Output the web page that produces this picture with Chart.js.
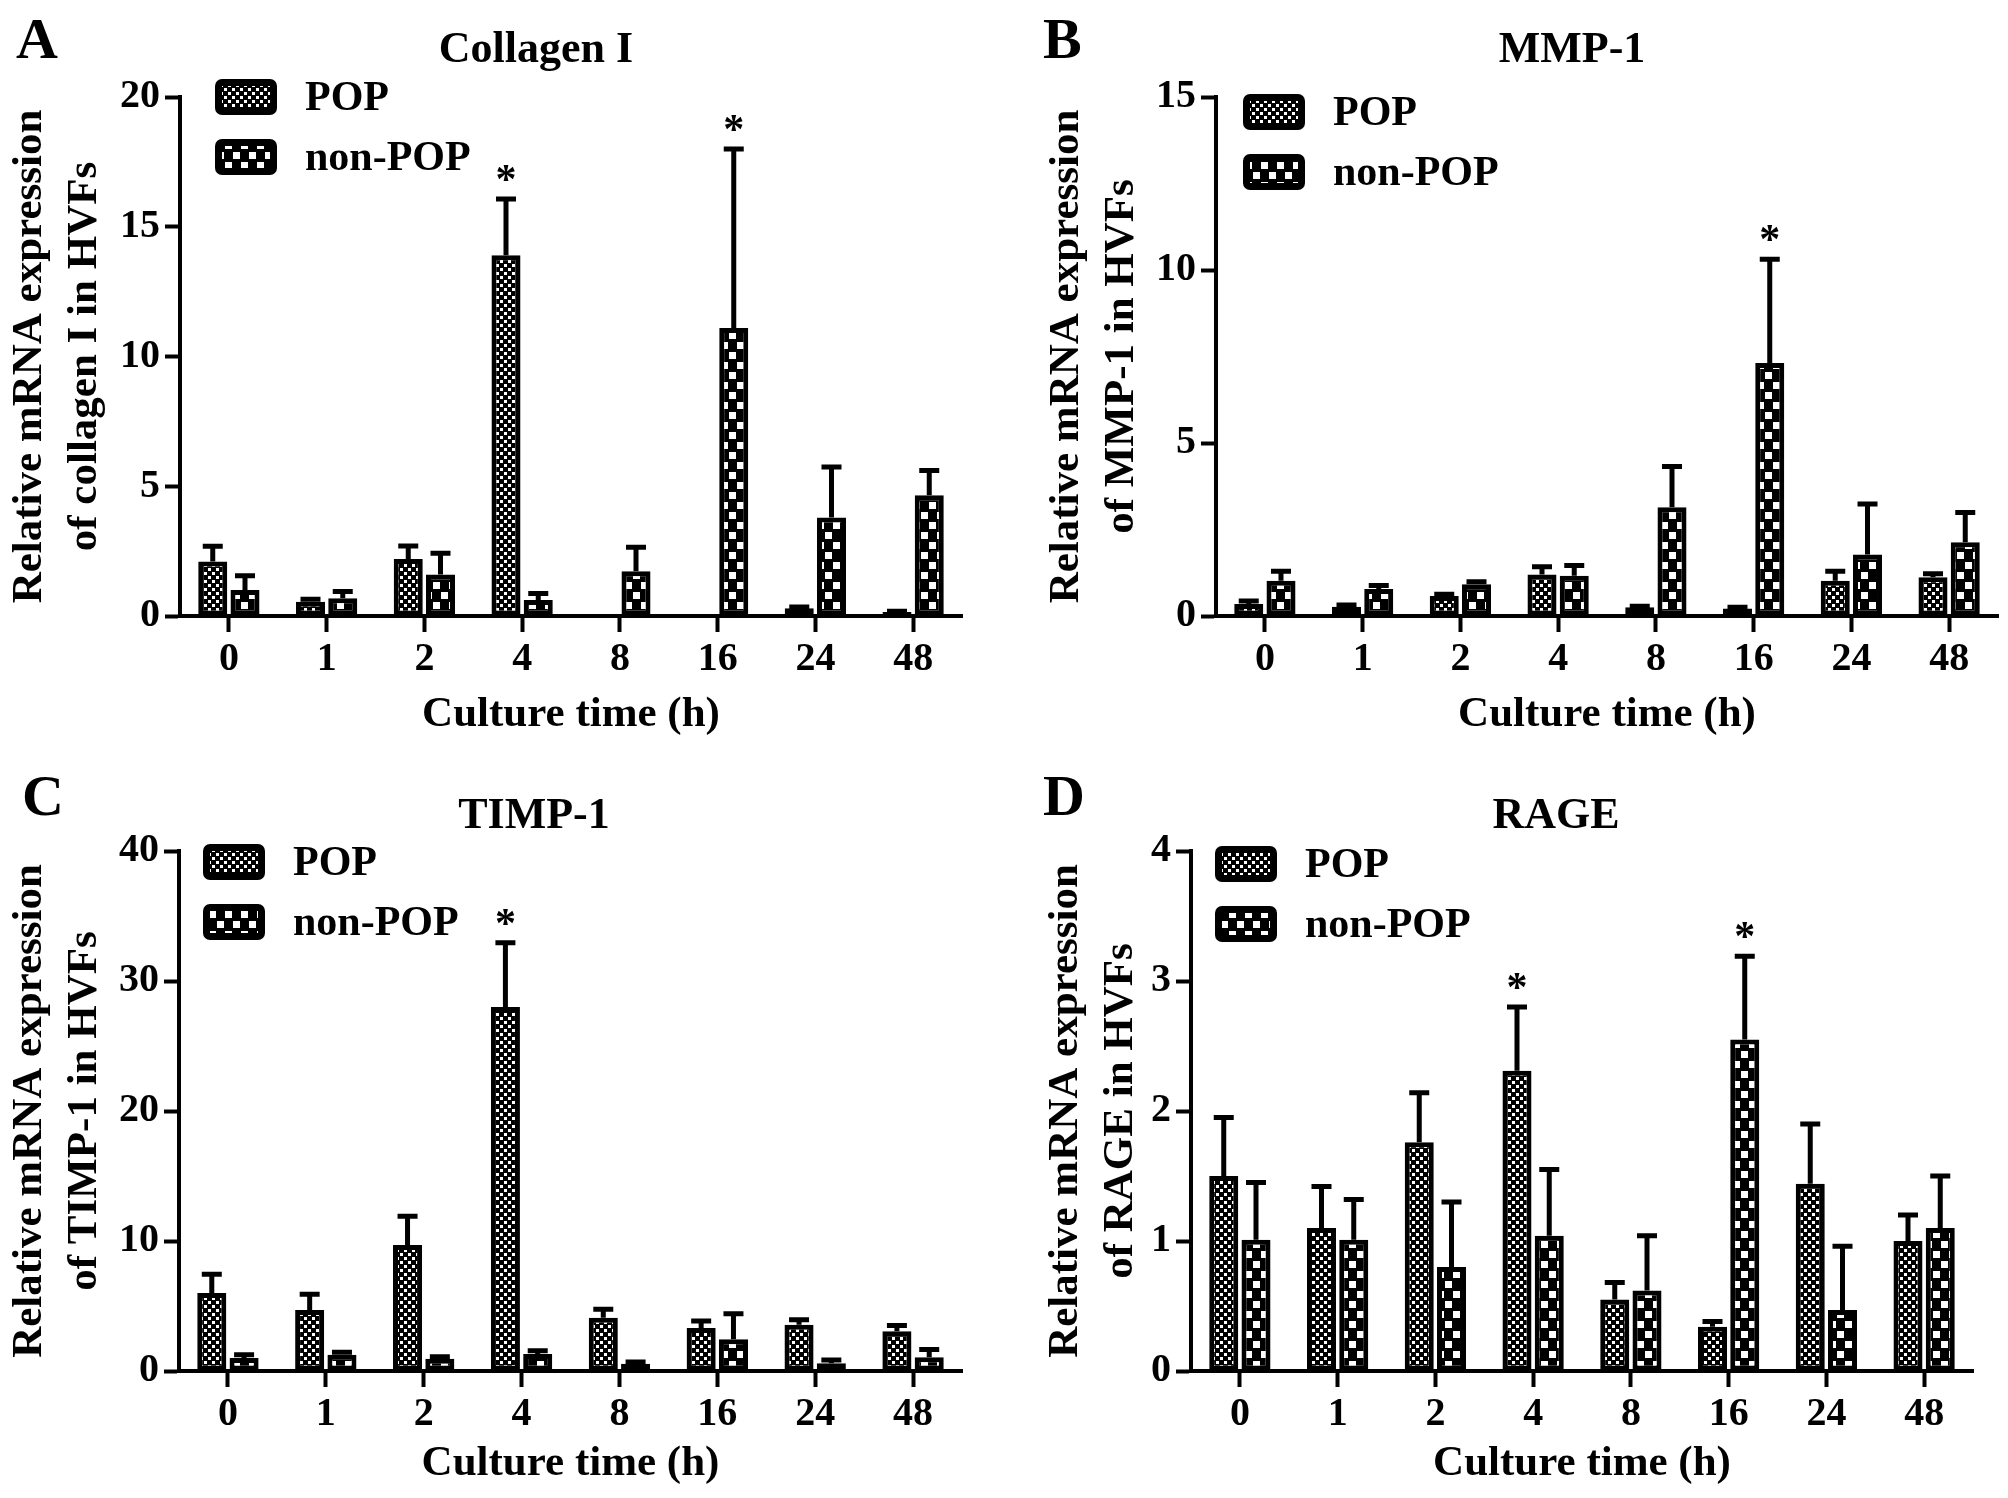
<!DOCTYPE html>
<html>
<head>
<meta charset="utf-8">
<script src="https://cdn.jsdelivr.net/npm/chart.js@4.4.1/dist/chart.umd.min.js"></script>
<style>
  html, body { margin: 0; padding: 0; background: #fff; }
  .panel { position: absolute; width: 1004px; height: 749px; }
</style>
</head>
<body>
<div class="panel" style="left:0;top:0"><canvas id="chartA" width="1004" height="749"></canvas></div>
<div class="panel" style="left:1004px;top:0"><canvas id="chartB" width="1004" height="749"></canvas></div>
<div class="panel" style="left:0;top:749px"><canvas id="chartC" width="1004" height="749"></canvas></div>
<div class="panel" style="left:1004px;top:749px"><canvas id="chartD" width="1004" height="749"></canvas></div>
<script>
// culture time points (h)
const hours = ['0', '1', '2', '4', '8', '16', '24', '48'];

// A - Collagen I
const collagenPop = [2.1, 0.55, 2.2, 13.9, 0.04, 0, 0.3, 0.15];
const collagenPopErr = [0.59, 0.1, 0.5, 2.17, 0, 0, 0.05, 0.03];
const collagenNon = [1.0, 0.68, 1.6, 0.62, 1.72, 11.1, 3.8, 4.65];
const collagenNonErr = [0.55, 0.26, 0.82, 0.25, 0.93, 6.9, 1.94, 0.96];
const collagenPopStar = [0, 0, 0, 1, 0, 0, 0, 0];
const collagenNonStar = [0, 0, 0, 0, 0, 1, 0, 0];

// B - MMP-1
const mmpPop = [0.35, 0.27, 0.58, 1.2, 0.25, 0.22, 1.02, 1.12];
const mmpPopErr = [0.08, 0.05, 0.05, 0.22, 0.03, 0.03, 0.27, 0.1];
const mmpNon = [1.02, 0.78, 0.92, 1.16, 3.14, 7.31, 1.78, 2.13];
const mmpNonErr = [0.27, 0.1, 0.07, 0.3, 1.18, 3.0, 1.46, 0.86];
const mmpPopStar = [0, 0, 0, 0, 0, 0, 0, 0];
const mmpNonStar = [0, 0, 0, 0, 0, 1, 0, 0];

// C - TIMP-1
const timpPop = [6.0, 4.7, 9.7, 28.0, 4.1, 3.3, 3.55, 3.05];
const timpPopErr = [1.45, 1.2, 2.2, 4.95, 0.65, 0.55, 0.4, 0.45];
const timpNon = [1.0, 1.25, 0.95, 1.3, 0.55, 2.45, 0.6, 1.05];
const timpNonErr = [0.25, 0.2, 0.15, 0.25, 0.15, 1.95, 0.25, 0.6];
const timpPopStar = [0, 0, 0, 1, 0, 0, 0, 0];
const timpNonStar = [0, 0, 0, 0, 0, 0, 0, 0];

// D - RAGE
const ragePop = [1.50, 1.10, 1.76, 2.31, 0.55, 0.34, 1.44, 1.00];
const ragePopErr = [0.45, 0.32, 0.38, 0.49, 0.13, 0.04, 0.46, 0.2];
const rageNon = [1.01, 1.01, 0.80, 1.04, 0.62, 2.55, 0.47, 1.10];
const rageNonErr = [0.44, 0.31, 0.50, 0.51, 0.42, 0.64, 0.49, 0.40];
const ragePopStar = [0, 0, 0, 1, 0, 0, 0, 0];
const rageNonStar = [0, 0, 0, 0, 0, 1, 0, 0];

const serif = "'Liberation Serif', 'Times New Roman', serif";

function makePattern(ctx, w, h, squares) {
    const tile = document.createElement('canvas');
    tile.width = w;
    tile.height = h;
    const t = tile.getContext('2d');
    t.fillStyle = '#000';
    t.fillRect(0, 0, w, h);
    t.fillStyle = '#fff';
    squares.forEach(s => t.fillRect(s[0], s[1], s[2], s[3]));
    return ctx.createPattern(tile, 'repeat');
}

function drawPanel(p) {
    const ctx = document.getElementById(p.id).getContext('2d');
    const popFill = makePattern(ctx, 8, 8, [[0, 0, 3, 3], [4, 4, 3, 3]]);
    const nonFill = makePattern(ctx, 16, 20, [[1, 2, 7, 7], [9, 12, 7, 7]]);

    const deco = {
        id: 'deco',
        afterDatasetsDraw(chart) {
            const c = chart.ctx;
            const y = chart.scales.y;
            c.save();
            c.strokeStyle = '#000';
            c.fillStyle = '#000';
            chart.data.datasets.forEach((ds, di) => {
                chart.getDatasetMeta(di).data.forEach((bar, i) => {
                    const top = y.getPixelForValue(ds.data[i] + ds.errors[i]);
                    if (ds.errors[i] > 0) {
                        c.lineWidth = 5;
                        c.beginPath();
                        c.moveTo(bar.x, bar.y);
                        c.lineTo(bar.x, top);
                        c.moveTo(bar.x - 10, top);
                        c.lineTo(bar.x + 10, top);
                        c.stroke();
                    }
                    if (ds.stars[i]) {
                        c.font = 'bold 42px ' + serif;
                        c.textAlign = 'center';
                        c.textBaseline = 'alphabetic';
                        c.fillText('*', bar.x, top - 6);
                    }
                });
            });
        },
        afterDraw(chart) {
            const c = chart.ctx;
            c.save();
            c.fillStyle = '#000';
            // panel letter
            c.font = 'bold 58px ' + serif;
            c.textAlign = 'left';
            c.textBaseline = 'alphabetic';
            c.fillText(p.letter, p.letterX, p.letterY);
            // panel title
            c.font = 'bold 44px ' + serif;
            c.textAlign = 'center';
            c.fillText(p.title, p.titleX, p.titleY);
            // legend
            chart.data.datasets.forEach((ds, i) => {
                const cy = p.legY + i * 60;
                c.fillStyle = '#000';
                c.beginPath();
                c.roundRect(p.legX, cy - 18, 62, 36, 7);
                c.fill();
                c.fillStyle = ds.backgroundColor;
                c.fillRect(p.legX + 7, cy - 11, 48, 22);
                c.fillStyle = '#000';
                c.font = 'bold 42px ' + serif;
                c.textAlign = 'left';
                c.textBaseline = 'middle';
                c.fillText(ds.label, p.legX + 90, cy + 2);
            });
            c.restore();
        }
    };

    new Chart(ctx, {
        type: 'bar',
        data: {
            labels: hours,
            datasets: [{
                label: 'POP',
                data: p.pop,
                errors: p.popErr,
                stars: p.popStar,
                backgroundColor: popFill,
                borderColor: '#000',
                borderWidth: 5,
                borderSkipped: false
            }, {
                label: 'non-POP',
                data: p.non,
                errors: p.nonErr,
                stars: p.nonStar,
                backgroundColor: nonFill,
                borderColor: '#000',
                borderWidth: 5,
                borderSkipped: false
            }]
        },
        options: {
            responsive: false,
            animation: false,
            categoryPercentage: 0.66,
            barPercentage: 0.9,
            layout: { padding: { left: p.padLeft, top: p.top, right: 1004 - p.right, bottom: 0 } },
            plugins: { legend: { display: false }, tooltip: { enabled: false } },
            scales: {
                x: {
                    offset: true,
                    grid: { drawOnChartArea: false, offset: false, tickLength: 16, tickWidth: 4, tickColor: '#000' },
                    border: { display: true, width: 4, color: '#000' },
                    ticks: { color: '#000', font: { family: serif, size: 40, weight: 'bold' }, padding: 4, maxRotation: 0 },
                    title: {
                        display: true,
                        text: 'Culture time (h)',
                        color: '#000',
                        font: { family: serif, size: 43, weight: 'bold' },
                        padding: { top: 0, bottom: 8 }
                    },
                    afterFit(scale) { scale.height = 749 - p.bottom; }
                },
                y: {
                    min: 0,
                    max: p.max,
                    ticks: { stepSize: p.step, color: '#000', font: { family: serif, size: 40, weight: 'bold' }, padding: 5 },
                    grid: { drawOnChartArea: false, tickLength: 15, tickWidth: 4, tickColor: '#000' },
                    border: { display: true, width: 4, color: '#000' },
                    title: {
                        display: true,
                        text: p.yTitle,
                        color: '#000',
                        font: { family: serif, size: 43, weight: 'bold', lineHeight: 1.28 },
                        padding: { top: 2, bottom: 0 }
                    },
                    afterFit(scale) { scale.width = p.left - p.padLeft; }
                }
            }
        },
        plugins: [deco]
    });
}

drawPanel({
    id: 'chartA', letter: 'A', title: 'Collagen I',
    yTitle: ['Relative mRNA expression', 'of collagen I in HVFs'],
    pop: collagenPop, popErr: collagenPopErr, popStar: collagenPopStar,
    non: collagenNon, nonErr: collagenNonErr, nonStar: collagenNonStar,
    max: 20, step: 5,
    padLeft: 0, left: 180, right: 962, top: 97, bottom: 616,
    letterX: 16, letterY: 58, titleX: 536, titleY: 62, legX: 215, legY: 97
});

drawPanel({
    id: 'chartB', letter: 'B', title: 'MMP-1',
    yTitle: ['Relative mRNA expression', 'of MMP-1 in HVFs'],
    pop: mmpPop, popErr: mmpPopErr, popStar: mmpPopStar,
    non: mmpNon, nonErr: mmpNonErr, nonStar: mmpNonStar,
    max: 15, step: 5,
    padLeft: 33, left: 212, right: 994, top: 97, bottom: 616,
    letterX: 39, letterY: 58, titleX: 568, titleY: 62, legX: 239, legY: 112
});

drawPanel({
    id: 'chartC', letter: 'C', title: 'TIMP-1',
    yTitle: ['Relative mRNA expression', 'of TIMP-1 in HVFs'],
    pop: timpPop, popErr: timpPopErr, popStar: timpPopStar,
    non: timpNon, nonErr: timpNonErr, nonStar: timpNonStar,
    max: 40, step: 10,
    padLeft: 0, left: 179, right: 962, top: 102, bottom: 622,
    letterX: 22, letterY: 66, titleX: 534, titleY: 79, legX: 203, legY: 113
});

drawPanel({
    id: 'chartD', letter: 'D', title: 'RAGE',
    yTitle: ['Relative mRNA expression', 'of RAGE in HVFs'],
    pop: ragePop, popErr: ragePopErr, popStar: ragePopStar,
    non: rageNon, nonErr: rageNonErr, nonStar: rageNonStar,
    max: 4, step: 1,
    padLeft: 32, left: 187, right: 969, top: 102, bottom: 622,
    letterX: 39, letterY: 66, titleX: 552, titleY: 79, legX: 211, legY: 115
});
</script>
</body>
</html>
